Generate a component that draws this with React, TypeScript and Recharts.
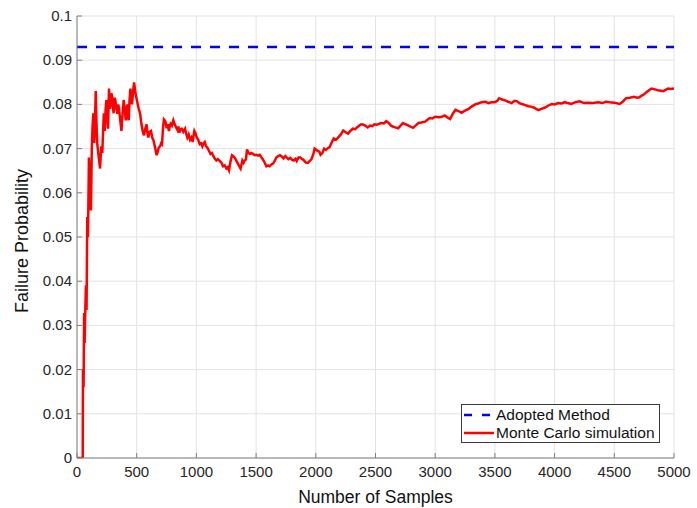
import { CartesianGrid, Line, LineChart, XAxis, YAxis } from 'recharts'

const FONT = '"Liberation Sans", Arial, Helvetica, sans-serif'

// sample counts and the running Monte Carlo estimate
const samples = [
  0, 48, 50, 55, 60, 64, 70, 75, 80, 86, 92, 100, 108, 117, 124, 130, 137, 145, 152, 157,
  163, 170, 182, 193, 203, 212, 220, 225, 232, 240, 246, 253, 260, 268, 275, 282, 288, 293, 300, 307,
  314, 321, 330, 338, 345, 352, 362, 372, 382, 391, 400, 408, 415, 422, 428, 433, 440, 447, 455, 461,
  470, 478, 490, 505, 517, 528, 540, 550, 561, 572, 583, 590, 597, 608, 620, 630, 640, 652, 667, 675,
  685, 695, 705, 712, 720, 728, 740, 751, 760, 770, 778, 784, 795, 807, 818, 830, 842, 850, 857, 866,
  877, 890, 905, 915, 924, 935, 947, 958, 969, 976, 983, 992, 1000, 1015, 1028, 1040, 1050, 1060, 1070, 1080,
  1092, 1105, 1118, 1130, 1140, 1152, 1167, 1180, 1195, 1210, 1223, 1237, 1251, 1262, 1273, 1285, 1298, 1310, 1320, 1330,
  1340, 1355, 1370, 1385, 1395, 1404, 1415, 1424, 1435, 1446, 1460, 1474, 1488, 1502, 1516, 1530, 1545, 1558, 1572, 1586,
  1600, 1614, 1628, 1642, 1656, 1670, 1685, 1700, 1715, 1730, 1745, 1755, 1770, 1785, 1800, 1815, 1830, 1840, 1855, 1870,
  1885, 1895, 1910, 1920, 1935, 1950, 1965, 1980, 1990, 2000, 2015, 2030, 2040, 2055, 2070, 2085, 2100, 2115, 2130, 2150,
  2170, 2190, 2210, 2230, 2250, 2270, 2290, 2310, 2330, 2350, 2365, 2380, 2400, 2420, 2435, 2455, 2475, 2490, 2510, 2530,
  2545, 2570, 2590, 2610, 2630, 2645, 2665, 2690, 2710, 2730, 2750, 2770, 2790, 2815, 2840, 2860, 2885, 2915, 2935, 2955,
  2975, 3000, 3030, 3055, 3080, 3105, 3125, 3150, 3170, 3195, 3220, 3250, 3280, 3305, 3335, 3360, 3390, 3420, 3445, 3470,
  3500, 3520, 3535, 3560, 3585, 3610, 3640, 3665, 3685, 3705, 3725, 3750, 3780, 3800, 3825, 3845, 3865, 3890, 3920, 3945,
  3975, 4000, 4030, 4060, 4085, 4110, 4140, 4175, 4210, 4245, 4280, 4320, 4365, 4400, 4430, 4460, 4500, 4545, 4570, 4600,
  4630, 4665, 4690, 4710, 4730, 4750, 4780, 4810, 4840, 4865, 4890, 4910, 4930, 4950, 4975, 5000,
]

const mcValues = [
  0, 0, 0.02, 0.016, 0.0328, 0.026, 0.034, 0.039, 0.0335, 0.0545, 0.05, 0.068, 0.06, 0.056, 0.07, 0.075, 0.078, 0.0713, 0.0775, 0.083,
  0.076, 0.071, 0.068, 0.0655, 0.0705, 0.069, 0.075, 0.078, 0.074, 0.079, 0.081, 0.077, 0.0745, 0.0836, 0.079, 0.08, 0.0825, 0.082, 0.0795, 0.078,
  0.0815, 0.081, 0.079, 0.0779, 0.08, 0.079, 0.0765, 0.074, 0.078, 0.081, 0.079, 0.0764, 0.079, 0.08, 0.077, 0.0764, 0.081, 0.0836, 0.081, 0.08,
  0.083, 0.085, 0.0825, 0.0805, 0.079, 0.078, 0.0755, 0.074, 0.073, 0.0745, 0.0755, 0.0735, 0.0725, 0.0738, 0.074, 0.0725, 0.0719, 0.0705, 0.0685, 0.0692,
  0.0702, 0.0705, 0.0712, 0.071, 0.0745, 0.0766, 0.0762, 0.0746, 0.0755, 0.074, 0.0752, 0.0756, 0.0752, 0.0764, 0.0755, 0.0748, 0.0742, 0.075, 0.0736, 0.0744,
  0.0745, 0.0738, 0.0745, 0.0733, 0.0725, 0.0732, 0.072, 0.0725, 0.0715, 0.073, 0.074, 0.0735, 0.0727, 0.072, 0.071, 0.0712, 0.0705, 0.0712, 0.0715, 0.0706,
  0.0702, 0.0695, 0.0688, 0.069, 0.0684, 0.0678, 0.0673, 0.0676, 0.0672, 0.0668, 0.066, 0.0662, 0.0655, 0.0658, 0.0651, 0.067, 0.0685, 0.0683, 0.068, 0.0675,
  0.067, 0.0662, 0.0655, 0.0673, 0.0668, 0.0673, 0.0675, 0.0698, 0.069, 0.0688, 0.069, 0.0688, 0.0685, 0.0686, 0.0684, 0.0686, 0.068, 0.0675, 0.0668, 0.066,
  0.0662, 0.066, 0.0664, 0.0666, 0.0672, 0.068, 0.0683, 0.0685, 0.0682, 0.0678, 0.0683, 0.068, 0.0676, 0.0679, 0.0675, 0.0673, 0.0677, 0.0672, 0.068, 0.068,
  0.0676, 0.0675, 0.067, 0.0668, 0.0668, 0.0672, 0.0677, 0.0688, 0.07, 0.0698, 0.0695, 0.0693, 0.0686, 0.069, 0.07, 0.0697, 0.0701, 0.0703, 0.0712, 0.0723,
  0.072, 0.0726, 0.0732, 0.0741, 0.0737, 0.0734, 0.074, 0.0745, 0.0744, 0.0749, 0.0752, 0.0755, 0.0754, 0.0751, 0.0748, 0.0752, 0.0751, 0.0755, 0.0754, 0.0756,
  0.0758, 0.0757, 0.0762, 0.0758, 0.0752, 0.075, 0.0748, 0.0746, 0.0752, 0.0758, 0.0755, 0.0753, 0.075, 0.0747, 0.0753, 0.0758, 0.0759, 0.0761, 0.0765, 0.0769,
  0.0768, 0.0772, 0.0771, 0.0772, 0.0775, 0.077, 0.0767, 0.078, 0.0788, 0.0785, 0.0781, 0.0786, 0.079, 0.0795, 0.08, 0.0802, 0.0805, 0.0806, 0.0803, 0.0805,
  0.0805, 0.0808, 0.0814, 0.0811, 0.0809, 0.0806, 0.0803, 0.0808, 0.0807, 0.0803, 0.0801, 0.0799, 0.0796, 0.0795, 0.0793, 0.079, 0.0787, 0.079, 0.0793, 0.0797,
  0.0801, 0.08, 0.0803, 0.0802, 0.0805, 0.0803, 0.0801, 0.0805, 0.0807, 0.0803, 0.0804, 0.0803, 0.0805, 0.0803, 0.0806, 0.0805, 0.0804, 0.0801, 0.0806, 0.0814,
  0.0815, 0.0817, 0.0815, 0.0816, 0.082, 0.0823, 0.083, 0.0836, 0.0834, 0.0832, 0.0831, 0.083, 0.0833, 0.0836, 0.0835, 0.0836,
]

const adoptedValue = 0.093
const adoptedRange = [0, 5000]

const xTicks = [0, 500, 1000, 1500, 2000, 2500, 3000, 3500, 4000, 4500, 5000]
const yTicks = [0, 0.01, 0.02, 0.03, 0.04, 0.05, 0.06, 0.07, 0.08, 0.09, 0.1]

const legendItems = [
  { name: 'Adopted Method', color: '#0000ff', dash: '8 10' },
  { name: 'Monte Carlo simulation', color: '#ff0000', dash: undefined },
]

const mcData = samples.map((n, i) => ({ n, p: mcValues[i] }))
const adoptedData = adoptedRange.map((n) => ({ n, p: adoptedValue }))

const fmtY = (v: number) => String(Number(v.toFixed(2)))

function XTick({ x, y, payload }: any) {
  return (
    <g>
      <line x1={x} y1={y} x2={x} y2={y - 5} stroke="#808080" />
      <text x={x} y={y + 19} textAnchor="middle" fontSize={15} fill="#262626" fontFamily={FONT}>
        {payload.value}
      </text>
    </g>
  )
}

function YTick({ x, y, payload }: any) {
  return (
    <g>
      <line x1={x} y1={y} x2={x + 5} y2={y} stroke="#808080" />
      <text x={x - 5} y={y + 5} textAnchor="end" fontSize={15} fill="#262626" fontFamily={FONT}>
        {fmtY(payload.value)}
      </text>
    </g>
  )
}

function LegendBox() {
  return (
    <div
      style={{
        position: 'absolute',
        left: 461,
        top: 404,
        width: 199,
        height: 39,
        boxSizing: 'border-box',
        border: '1px solid #3a3a3a',
        background: '#fff',
        fontFamily: FONT,
        fontSize: 15.5,
        color: '#111',
        padding: '1px 0',
        whiteSpace: 'nowrap',
      }}
    >
      {legendItems.map((item) => (
        <div key={item.name} style={{ display: 'flex', alignItems: 'center', height: 18 }}>
          <svg width={34} height={18} style={{ flex: 'none' }}>
            <line
              x1={2}
              y1={9}
              x2={32}
              y2={9}
              stroke={item.color}
              strokeWidth={2.5}
              strokeDasharray={item.dash}
            />
          </svg>
          <span>{item.name}</span>
        </div>
      ))}
    </div>
  )
}

export default function App() {
  return (
    <div style={{ position: 'absolute', left: 0, top: 0, width: 697, height: 508, background: '#fff' }}>
      <LineChart width={697} height={508} margin={{ top: 16, right: 23, bottom: 0, left: 0 }}>
        <CartesianGrid stroke="#e3e3e3" />
        <XAxis
          dataKey="n"
          type="number"
          domain={[0, 5000]}
          ticks={xTicks}
          height={50}
          tickSize={0}
          tickMargin={0}
          tickLine={false}
          tick={<XTick />}
          stroke="#808080"
          allowDataOverflow
          label={{
            content: ({ viewBox }: any) => (
              <text
                x={viewBox.x + viewBox.width / 2}
                y={viewBox.y + 45}
                textAnchor="middle"
                fontSize={17.5}
                fill="#111"
                fontFamily={FONT}
              >
                Number of Samples
              </text>
            ),
          }}
        />
        <YAxis
          type="number"
          domain={[0, 0.1]}
          ticks={yTicks}
          width={77}
          tickSize={0}
          tickMargin={0}
          tickLine={false}
          tick={<YTick />}
          stroke="#808080"
          allowDataOverflow
          label={{
            content: ({ viewBox }: any) => {
              const cx = 28
              const cy = viewBox.y + viewBox.height / 2 + 4
              return (
                <text
                  x={cx}
                  y={cy}
                  transform={`rotate(-90, ${cx}, ${cy})`}
                  textAnchor="middle"
                  fontSize={18}
                  fill="#111"
                  fontFamily={FONT}
                >
                  Failure Probability
                </text>
              )
            },
          }}
        />
        <Line
          data={adoptedData}
          dataKey="p"
          stroke="#0000ff"
          strokeWidth={2.5}
          strokeDasharray="10 9"
          dot={false}
          isAnimationActive={false}
        />
        <Line
          data={mcData}
          dataKey="p"
          type="linear"
          stroke="#ff0000"
          strokeWidth={2.5}
          dot={false}
          isAnimationActive={false}
        />
      </LineChart>
      <LegendBox />
    </div>
  )
}
